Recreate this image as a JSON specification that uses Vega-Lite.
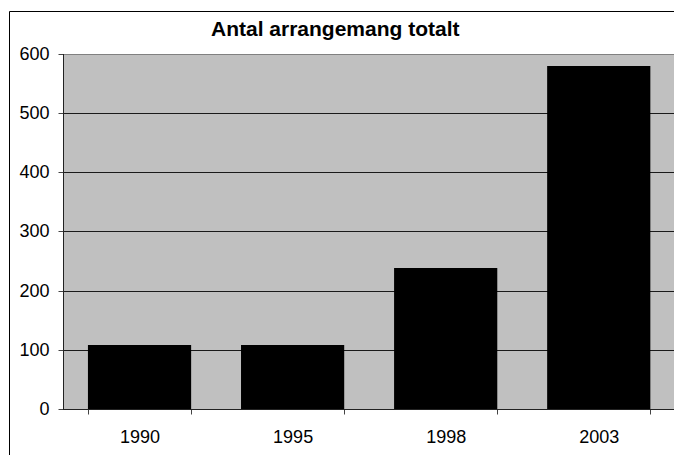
{
  "$schema": "https://vega.github.io/schema/vega-lite/v6.json",
  "width": 760,
  "height": 460,
  "autosize": {"type": "none"},
  "padding": {"left": 9, "top": 11, "right": -95, "bottom": -16},
  "background": "white",
  "config": {"view": {"stroke": "black", "strokeWidth": 1, "fill": "white"}, "font": "Liberation Sans"},
  "title": {
    "text": "Antal arrangemang totalt",
    "fontSize": 21,
    "fontWeight": "bold",
    "font": "Liberation Sans",
    "color": "black",
    "anchor": "start",
    "frame": "group",
    "offset": -46,
    "baseline": "alphabetic",
    "dx": 202
  },
  "datasets": {
    "bars": [
      {"year": "1990", "value": 108},
      {"year": "1995", "value": 108},
      {"year": "1998", "value": 238},
      {"year": "2003", "value": 580}
    ],
    "grid": [
      {"v": 100}, {"v": 200}, {"v": 300}, {"v": 400}, {"v": 500}
    ]
  },
  "layer": [
    {
      "data": {"name": "bars"},
      "mark": {"type": "rect", "fill": "#C0C0C0", "x2Offset": 80},
      "encoding": {
        "x": {
          "datum": "1990", "type": "ordinal", "bandPosition": -0.2416,
          "scale": {"paddingInner": 0.3258, "paddingOuter": 0.64545, "align": 0.39952, "round": false},
          "axis": null
        },
        "x2": {"datum": "2003"},
        "y": {
          "datum": 600, "type": "quantitative",
          "scale": {"domain": [-104.789, 672.676], "nice": false, "zero": false, "round": true},
          "axis": null
        },
        "y2": {"datum": 0}
      }
    },
    {
      "data": {"name": "grid"},
      "mark": {"type": "rule", "color": "#1a1a1a", "strokeWidth": 1, "yOffset": 0.5, "x2Offset": 80},
      "encoding": {
        "x": {"datum": "1990", "type": "ordinal", "bandPosition": -0.2416, "axis": null},
        "x2": {"datum": "2003"},
        "y": {"field": "v", "type": "quantitative", "axis": null}
      }
    },
    {
      "data": {"name": "bars"},
      "mark": {"type": "rule", "color": "#808080", "strokeWidth": 1, "yOffset": 0.5, "x2Offset": 80},
      "encoding": {
        "x": {"datum": "1990", "type": "ordinal", "bandPosition": -0.2416, "axis": null},
        "x2": {"datum": "2003"},
        "y": {"datum": 600, "type": "quantitative", "axis": null}
      }
    },
    {
      "data": {"name": "bars"},
      "mark": {"type": "bar", "fill": "black"},
      "encoding": {
        "x": {
          "field": "year", "type": "ordinal",
          "axis": {"orient": "bottom", "offset": -62, "tickBand": "extent", "domain": false, "ticks": true, "tickSize": 5, "tickColor": "#444", "tickWidth": 1, "labelFontSize": 18, "labelFont": "Liberation Sans", "labelColor": "black", "labelPadding": 14, "labelAngle": 0, "title": null, "grid": false}
        },
        "y": {
          "field": "value", "type": "quantitative",
          "axis": {"orient": "left", "offset": -54, "values": [0, 100, 200, 300, 400, 500, 600], "domain": false, "ticks": true, "tickSize": 5, "tickColor": "#444", "tickWidth": 1, "labelFontSize": 18, "labelFont": "Liberation Sans", "labelColor": "black", "labelPadding": 9, "title": null, "grid": false}
        }
      }
    },
    {
      "data": {"name": "bars"},
      "mark": {"type": "rule", "color": "#222222", "strokeWidth": 1, "xOffset": 0.5},
      "encoding": {
        "x": {"datum": "1990", "type": "ordinal", "bandPosition": -0.2416, "axis": null},
        "y": {"datum": 0, "type": "quantitative", "axis": null},
        "y2": {"datum": 600}
      }
    },
    {
      "data": {"name": "bars"},
      "mark": {"type": "rule", "color": "#222222", "strokeWidth": 1, "yOffset": 0.5, "x2Offset": 80},
      "encoding": {
        "x": {"datum": "1990", "type": "ordinal", "bandPosition": -0.2416, "axis": null},
        "x2": {"datum": "2003"},
        "y": {"datum": 0, "type": "quantitative", "axis": null}
      }
    }
  ],
  "resolve": {"axis": {"x": "independent", "y": "independent"}}
}
